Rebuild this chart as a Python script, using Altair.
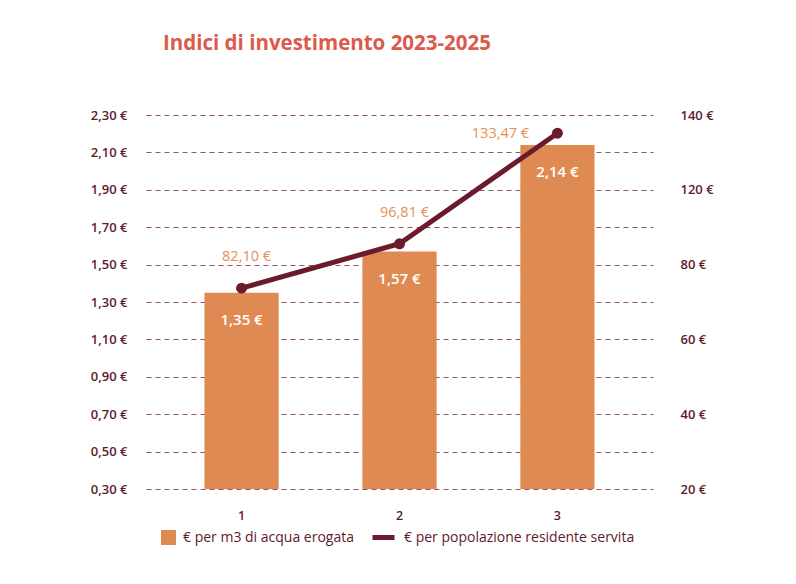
import altair as alt
import pandas as pd

# ---- data ----
categories = ["1", "2", "3"]
bar_values = [1.35, 1.57, 2.14]
bar_labels = ["1,35 €", "1,57 €", "2,14 €"]
line_values = [82.10, 96.81, 133.47]
line_labels = ["82,10 €", "96,81 €", "133,47 €"]
bar_series = "€ per m3 di acqua erogata"
line_series = "€ per popolazione residente servita"
left_ticks = [0.30, 0.50, 0.70, 0.90, 1.10, 1.30, 1.50, 1.70, 1.90, 2.10, 2.30]
right_tick_labels = ["20 €", "40 €", "60 €", "80 €", "120 €", "140 €"]
title_text = "Indici di investimento 2023-2025"

# ---- styles ----
ORANGE = "#E08A53"
MAROON = "#6B1B2B"
TEXT_MAROON = "#5E1A2A"
LABEL_ORANGE = "#E58F52"
TITLE_RED = "#DC5A4B"
FONT = "Open Sans"

df = pd.DataFrame({
    "cat": categories,
    "bar": bar_values,
    "bar_label": bar_labels,
    "line": line_values,
    "line_label": line_labels,
    "bar_series": [bar_series] * 3,
    "line_series": [line_series] * 3,
    "idx": [0, 1, 2],
})

right_domain = [15.5, 139.5]
step = (right_domain[1] - right_domain[0]) / (len(right_tick_labels) - 1)
right_ticks = [right_domain[0] + i * step for i in range(len(right_tick_labels))]
expr = "'" + right_tick_labels[-1] + "'"
for t, lab in reversed(list(zip(right_ticks[:-1], right_tick_labels[:-1]))):
    expr = f"datum.value < {t + step / 2:.3f} ? '{lab}' : " + expr

x_enc = alt.X(
    "cat:N",
    sort=categories,
    scale=alt.Scale(paddingInner=0.53, paddingOuter=0.37),
    axis=alt.Axis(title=None, labelAngle=0, domain=False, ticks=False,
                  labelPadding=20, labelFontSize=12.5, labelColor=TEXT_MAROON,
                  labelFont=FONT, labelFontWeight=600),
)

left_y = alt.Y(
    "bar:Q",
    scale=alt.Scale(domain=[0.30, 2.30], zero=False, nice=False),
    axis=alt.Axis(title=None, values=left_ticks,
                  labelExpr="replace(format(datum.value, '.2f'), '.', ',') + ' €'",
                  domain=False, ticks=False, labelPadding=19,
                  labelFontSize=13, labelColor=TEXT_MAROON, labelFont=FONT,
                  labelFontWeight=600,
                  grid=True, gridDash=[5, 4], gridColor="#7E3A4B",
                  gridOpacity=0.85, gridWidth=1),
)

right_y = alt.Y(
    "line:Q",
    scale=alt.Scale(domain=right_domain, zero=False, nice=False),
    axis=alt.Axis(title=None, orient="right", values=right_ticks,
                  labelExpr=expr, domain=False, ticks=False, grid=False,
                  labelPadding=27, labelFontSize=13, labelColor=TEXT_MAROON,
                  labelFont=FONT, labelFontWeight=600),
)

base = alt.Chart(df)

bars = base.mark_bar(clip=True).encode(
    x=x_enc,
    y=left_y,
    fill=alt.Fill("bar_series:N",
                  scale=alt.Scale(domain=[bar_series], range=[ORANGE]),
                  legend=alt.Legend(title=None, orient="none", legendX=15, legendY=415,
                                    symbolType="square", symbolSize=225,
                                    symbolStrokeWidth=0, symbolOpacity=1,
                                    labelFontSize=14, labelColor=TEXT_MAROON,
                                    labelFont=FONT, labelFontWeight=500, labelOffset=7,
                                    labelLimit=400)),
)

bar_text = base.mark_text(color="white", fontSize=15, font=FONT, fontWeight=600,
                          baseline="middle", dy=27).encode(
    x=x_enc,
    y=left_y,
    text="bar_label:N",
)

line = base.mark_line(strokeWidth=5).encode(
    x=x_enc,
    y=right_y,
    stroke=alt.Stroke("line_series:N",
                      scale=alt.Scale(domain=[line_series], range=[MAROON]),
                      legend=alt.Legend(title=None, orient="none", legendX=224, legendY=409,
                                        symbolType="stroke", symbolSize=484,
                                        symbolStrokeWidth=5,
                                        labelFontSize=14, labelColor=TEXT_MAROON,
                                        labelFont=FONT, labelFontWeight=500, labelOffset=7,
                                        labelLimit=400)),
)

points = base.mark_circle(size=120, color=MAROON, opacity=1).encode(
    x=x_enc,
    y=right_y,
)

line_text_a = base.transform_filter("datum.idx < 2").mark_text(
    color=LABEL_ORANGE, fontSize=14.5, font=FONT, fontWeight=500, dy=-31, dx=5
).encode(
    x=x_enc,
    y=right_y,
    text="line_label:N",
)

line_text_b = base.transform_filter("datum.idx == 2").mark_text(
    color=LABEL_ORANGE, fontSize=14.5, font=FONT, fontWeight=500, dx=-57, dy=1
).encode(
    x=x_enc,
    y=right_y,
    text="line_label:N",
)

left = alt.layer(bars, bar_text)
right = alt.layer(line, points, line_text_a, line_text_b)

chart = alt.layer(left, right).resolve_scale(
    y="independent", fill="independent", stroke="independent"
).properties(
    width=507,
    height=374,
    autosize=alt.AutoSizeParams(type="none"),
    padding={"left": 138, "top": 107, "right": 130, "bottom": 80},
    background="white",
    title=alt.Title(title_text, anchor="start", frame="group", dx=17, offset=55,
                    fontSize=20.5, font=FONT, fontWeight=700, color=TITLE_RED),
).configure_view(stroke=None)

chart.save("out.html", embed_options={"renderer": "svg", "actions": False})
